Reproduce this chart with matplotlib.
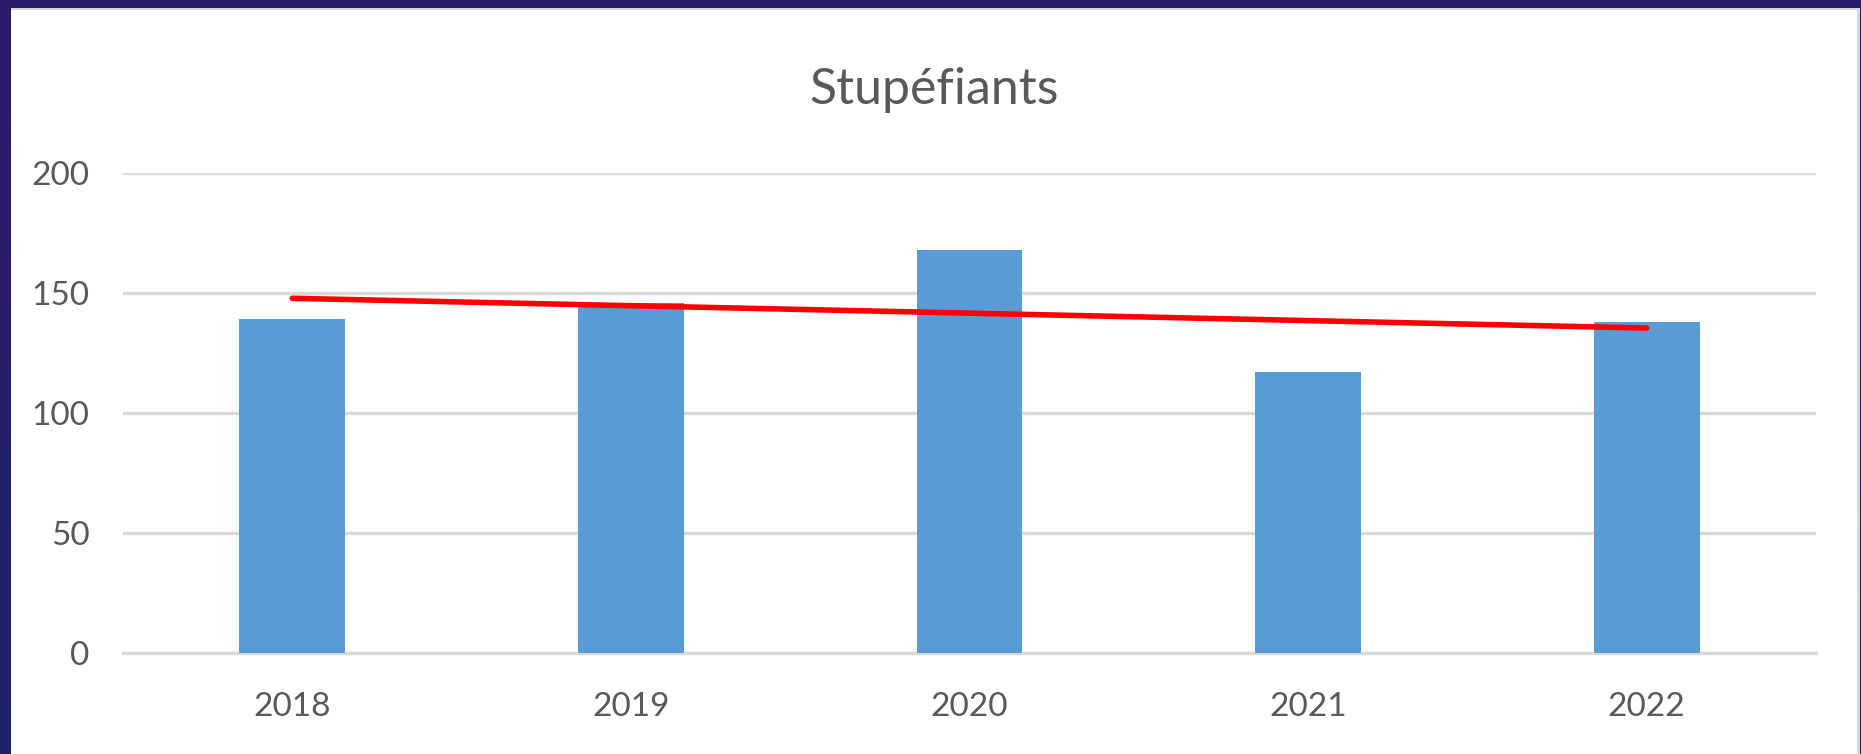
import numpy as np
import matplotlib
matplotlib.use("Agg")
import matplotlib.pyplot as plt
from matplotlib.patches import Rectangle
from matplotlib.colors import LinearSegmentedColormap

# --- data ---------------------------------------------------------------------
years = ["2018", "2019", "2020", "2021", "2022"]
counts = [139, 146, 168, 117, 138]
y_ticks = [0, 50, 100, 150, 200]
title = "Stupéfiants"

plt.rcParams['font.family'] = ['Lato', 'DejaVu Sans']
text_grey = '#595959'

W, H = 1861, 754
fig = plt.figure(figsize=(W / 100, H / 100), dpi=100)

# --- slide background (dark purple gradient) + white chart panel ---------------
bg = fig.add_axes([0, 0, 1, 1], zorder=-10)
grad = np.linspace(0, 1, 256).reshape(-1, 1)
cmap = LinearSegmentedColormap.from_list('slide', ['#2f1a6c', '#1c2466'])
bg.imshow(grad, aspect='auto', cmap=cmap, extent=[0, 1, 0, 1], origin='upper')
bg.set_xlim(0, 1)
bg.set_ylim(0, 1)
bg.axis('off')

# shadow at the right edge, then the panel itself
bg.add_patch(Rectangle((11 / W, 0), 1849 / W, (H - 8) / H, facecolor='#d8d8d8', edgecolor='none'))
bg.add_patch(Rectangle((11 / W, 0), 1846 / W, (H - 10) / H, facecolor='white', edgecolor='none'))

# --- chart ---------------------------------------------------------------------
ax = fig.add_axes([123 / W, (H - 653) / H, (1816 - 123) / W, (653 - 173) / H])
x = np.arange(len(years))
ax.bar(x, counts, width=0.313, color='#5b9bd5', zorder=3)

# linear trend line
slope, icpt = np.polyfit(x, counts, 1)
ax.plot([x[0], x[-1]], [icpt + slope * x[0], icpt + slope * x[-1]],
        color='#ff0000', lw=4, solid_capstyle='round', zorder=4)

ax.set_xlim(-0.5, len(years) - 0.5)
ax.set_ylim(0, 200)
ax.set_yticks(y_ticks)
ax.set_xticks(x)
ax.set_xticklabels(years)
ax.yaxis.grid(True, color='#d9d9d9', lw=2.4, zorder=0)
ax.tick_params(axis='both', length=0, labelsize=24, colors=text_grey)
ax.tick_params(axis='y', pad=24)
ax.tick_params(axis='x', pad=28)
for s in ['top', 'right', 'left']:
    ax.spines[s].set_visible(False)
ax.spines['bottom'].set_color('#d9d9d9')
ax.spines['bottom'].set_linewidth(2.4)
ax.set_facecolor('none')
ax.set_axisbelow(True)

fig.text(934 / W, (H - 104) / H, title, ha='center', va='baseline',
         fontsize=36, color=text_grey)

fig.savefig("out.png", dpi=100)
